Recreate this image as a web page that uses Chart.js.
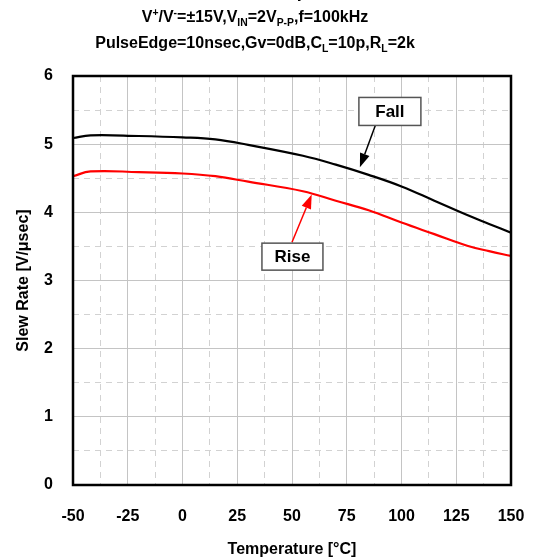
<!DOCTYPE html>
<html>
<head>
<meta charset="utf-8">
<script src="https://cdn.jsdelivr.net/npm/chart.js@4/dist/chart.umd.min.js"></script>
<style>
  html, body { margin: 0; padding: 0; background: #fff; }
  #wrap { position: relative; width: 535px; height: 560px; overflow: hidden; }
  #chart { position: absolute; left: 0; top: 0; }
  .hdr { position: absolute; left: 0; width: 510px; text-align: center;
         font-family: "Liberation Sans", Arial, sans-serif; font-weight: bold; color: #000; white-space: nowrap; }
  .hdr sub, .hdr sup { font-size: 65%; line-height: 0; }
</style>
</head>
<body>
<div id="wrap">
  <canvas id="chart" width="535" height="560"></canvas>
  <div class="hdr" style="top:-19px;font-size:18px;">Slew Rate vs. Temperature</div>
  <div class="hdr" style="top:8px;font-size:16px;">V<sup>+</sup>/V<sup>-</sup>=±15V,V<sub>IN</sub>=2V<sub>P-P</sub>,f=100kHz</div>
  <div class="hdr" style="top:34px;font-size:16px;">PulseEdge=10nsec,Gv=0dB,C<sub>L</sub>=10p,R<sub>L</sub>=2k</div>
</div>
<script>
const temps = [-50, -42, -20, 0, 15, 30, 55, 70, 85, 100, 115, 130, 140, 150];
const fallRate = [5.09, 5.13, 5.12, 5.10, 5.07, 4.99, 4.83, 4.70, 4.55, 4.38, 4.17, 3.96, 3.83, 3.70];
const riseRate = [4.53, 4.60, 4.59, 4.57, 4.53, 4.45, 4.31, 4.17, 4.03, 3.85, 3.68, 3.51, 3.43, 3.36];
const xTicks = [-50, -25, 0, 25, 50, 75, 100, 125, 150];
const yTicks = [0, 1, 2, 3, 4, 5, 6];

// labels with arrows: box centre and arrow tip, in data units
const callouts = [
    { text: 'Fall', color: '#000', box: [94.7, 5.48], w: 62, h: 28, from: [88, 5.27], tip: [81, 4.66] },
    { text: 'Rise', color: '#ff0000', box: [50.2, 3.35], w: 61, h: 27, from: [50, 3.56], tip: [59, 4.26] }
];

const FONT = '"Liberation Sans", Arial, sans-serif';

function toPoints(xs, ys) {
    return xs.map((x, i) => ({ x: x, y: ys[i] }));
}

const isMajorX = (v) => xTicks.includes(v);
const isMajorY = (v) => yTicks.includes(v);

const framePlugin = {
    id: 'frame',
    afterDatasetsDraw(chart) {
        const { ctx, chartArea: a, scales } = chart;
        ctx.save();
        ctx.strokeStyle = '#000';
        ctx.lineWidth = 2.5;
        ctx.strokeRect(a.left, a.top, a.right - a.left, a.bottom - a.top);

        callouts.forEach((c) => {
            const bx = scales.x.getPixelForValue(c.box[0]);
            const by = scales.y.getPixelForValue(c.box[1]);
            const fx = scales.x.getPixelForValue(c.from[0]);
            const fy = scales.y.getPixelForValue(c.from[1]);
            const tx = scales.x.getPixelForValue(c.tip[0]);
            const ty = scales.y.getPixelForValue(c.tip[1]);

            // arrow
            ctx.strokeStyle = c.color;
            ctx.fillStyle = c.color;
            ctx.lineWidth = 1.5;
            const ang = Math.atan2(ty - fy, tx - fx);
            const headLen = 14, headW = 5;
            const bxh = tx - headLen * Math.cos(ang);
            const byh = ty - headLen * Math.sin(ang);
            ctx.beginPath();
            ctx.moveTo(fx, fy);
            ctx.lineTo(bxh, byh);
            ctx.stroke();
            ctx.beginPath();
            ctx.moveTo(tx, ty);
            ctx.lineTo(bxh + headW * Math.sin(ang), byh - headW * Math.cos(ang));
            ctx.lineTo(bxh - headW * Math.sin(ang), byh + headW * Math.cos(ang));
            ctx.closePath();
            ctx.fill();

            // box
            ctx.fillStyle = '#fff';
            ctx.fillRect(bx - c.w / 2, by - c.h / 2, c.w, c.h);
            ctx.strokeStyle = '#555';
            ctx.lineWidth = 1.5;
            ctx.strokeRect(bx - c.w / 2, by - c.h / 2, c.w, c.h);
            ctx.fillStyle = '#000';
            ctx.font = 'bold 17px ' + FONT;
            ctx.textAlign = 'center';
            ctx.textBaseline = 'middle';
            ctx.fillText(c.text, bx, by + 1);
        });
        ctx.restore();
    }
};

new Chart(document.getElementById('chart'), {
    type: 'line',
    data: {
        datasets: [
            {
                label: 'Fall',
                data: toPoints(temps, fallRate),
                borderColor: '#000',
                borderWidth: 2.2,
                pointRadius: 0,
                fill: false,
                tension: 0.4
            },
            {
                label: 'Rise',
                data: toPoints(temps, riseRate),
                borderColor: '#ff0000',
                borderWidth: 2.2,
                pointRadius: 0,
                fill: false,
                tension: 0.4
            }
        ]
    },
    options: {
        responsive: false,
        animation: false,
        devicePixelRatio: 1,
        layout: {
            padding: { left: 0, right: 24, top: 76, bottom: 0 }
        },
        plugins: {
            legend: { display: false },
            title: { display: false },
            tooltip: { enabled: false }
        },
        scales: {
            x: {
                type: 'linear',
                min: -50,
                max: 150,
                afterBuildTicks: (scale) => {
                    const t = [];
                    for (let v = -50; v <= 150; v += 12.5) t.push({ value: v });
                    scale.ticks = t;
                },
                afterFit: (scale) => {
                    scale.height = 75;
                    scale.paddingLeft = 0;
                    scale.paddingRight = 0;
                },
                grid: {
                    drawTicks: false,
                    color: (ctx) => isMajorX(ctx.tick.value) ? '#c4c4c4' : '#d2d2d2',
                    lineWidth: 1
                },
                border: {
                    display: false,
                    dash: (ctx) => (ctx.tick && !isMajorX(ctx.tick.value)) ? [6, 5] : []
                },
                ticks: {
                    autoSkip: false,
                    maxRotation: 0,
                    padding: 22,
                    color: '#000',
                    font: { family: FONT, size: 16, weight: 'bold' },
                    callback: (v) => isMajorX(v) ? String(v) : ''
                },
                title: {
                    display: true,
                    text: 'Temperature [°C]',
                    color: '#000',
                    padding: { top: 0, bottom: 1 },
                    font: { family: FONT, size: 16, weight: 'bold' }
                }
            },
            y: {
                type: 'linear',
                min: 0,
                max: 6,
                afterBuildTicks: (scale) => {
                    const t = [];
                    for (let v = 0; v <= 6; v += 0.5) t.push({ value: v });
                    scale.ticks = t;
                },
                afterFit: (scale) => {
                    scale.width = 73;
                    scale.paddingTop = 0;
                    scale.paddingBottom = 0;
                },
                grid: {
                    drawTicks: false,
                    color: (ctx) => isMajorY(ctx.tick.value) ? '#c4c4c4' : '#d2d2d2',
                    lineWidth: 1
                },
                border: {
                    display: false,
                    dash: (ctx) => (ctx.tick && !isMajorY(ctx.tick.value)) ? [6, 5] : []
                },
                ticks: {
                    autoSkip: false,
                    padding: 20,
                    color: '#000',
                    font: { family: FONT, size: 16, weight: 'bold' },
                    callback: (v) => isMajorY(v) ? String(v) : ''
                },
                title: {
                    display: true,
                    text: 'Slew Rate [V/μsec]',
                    color: '#000',
                    padding: { top: 14, bottom: 0 },
                    font: { family: FONT, size: 16, weight: 'bold' }
                }
            }
        }
    },
    plugins: [framePlugin]
});
</script>
</body>
</html>
